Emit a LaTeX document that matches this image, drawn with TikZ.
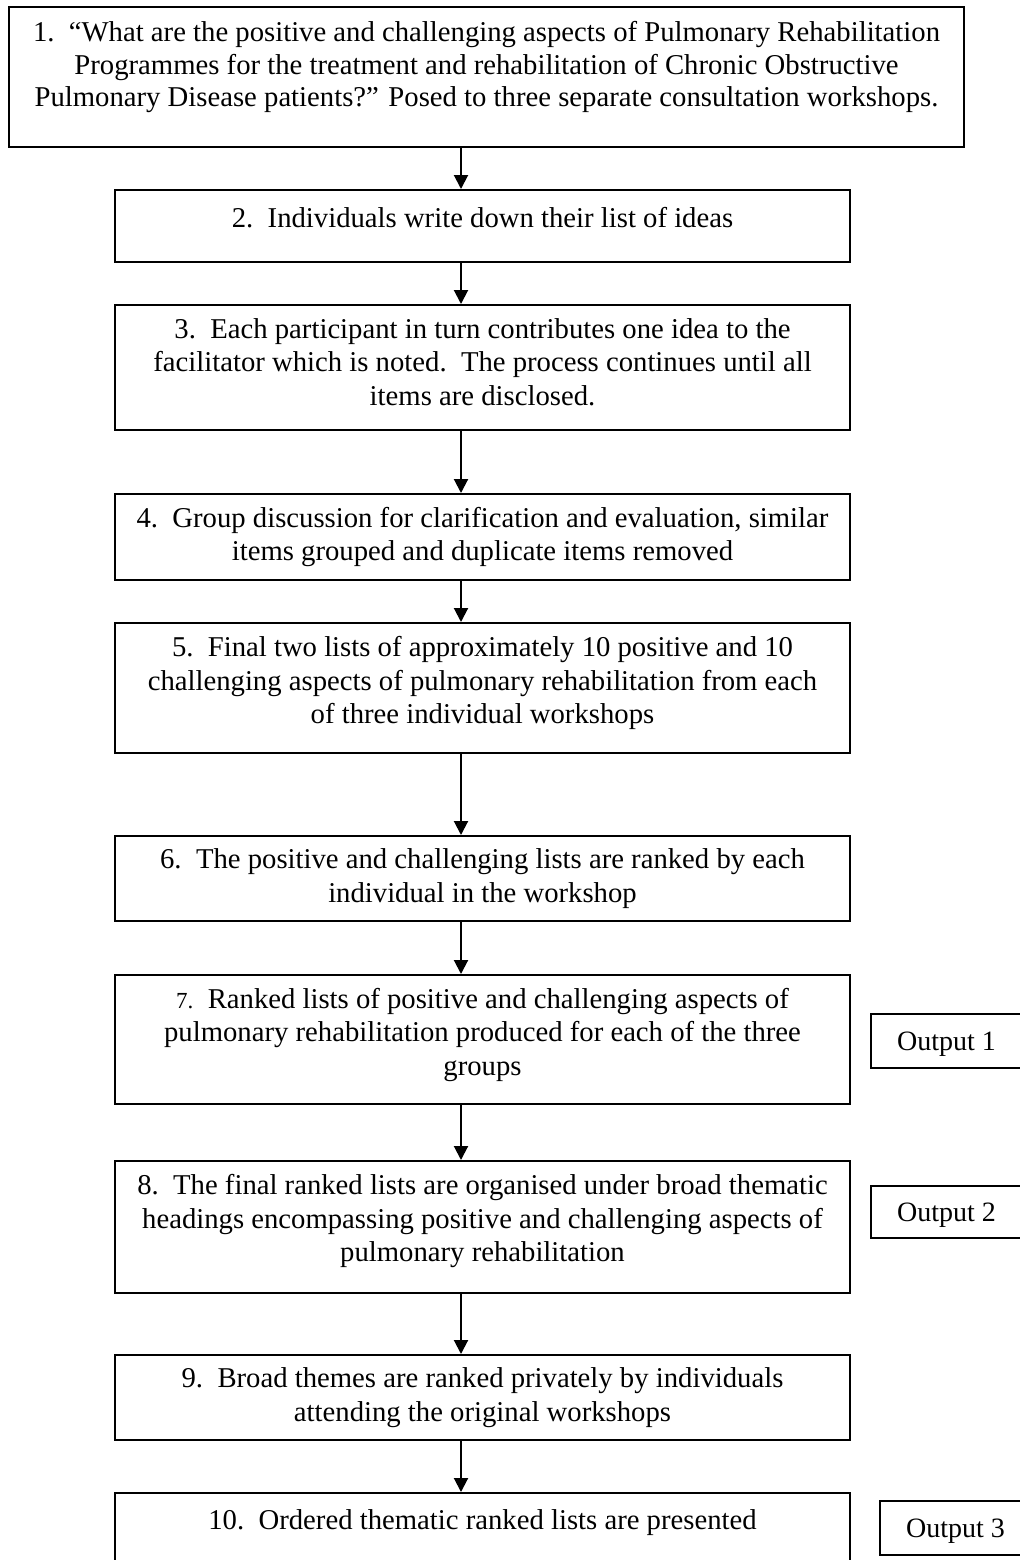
\documentclass[tikz,border=0pt]{standalone}
\usepackage{fontspec}
\setmainfont{Liberation Serif}
\usetikzlibrary{arrows.meta,positioning}
\newcommand{\drop}[1]{\rule[-#1]{0pt}{#1}}

\begin{document}
\begin{tikzpicture}[x=0.5pt, y=-0.5pt,
  box/.style={draw, line width=1pt, align=center, inner xsep=2pt, inner ysep=0pt},
  stepbox/.style={box, minimum width=367.5pt, font=\fontsize{14.35}{16.75}\selectfont, execute at begin node={\rule{0pt}{18pt}}},
  outbox/.style={box, minimum width=75.5pt, font=\fontsize{14}{16.5}\selectfont, execute at begin node={\rule{0pt}{12.5pt}}},
  arr/.style={-{Triangle[length=7pt, width=7pt]}, line width=1pt}]
\clip (0,0) rectangle (1020,1560);
\coordinate (spine) at (461,0);
\node[stepbox, minimum width=477.5pt, minimum height=70pt, font=\fontsize{14.35}{16.25}\selectfont] (s1) at (486.5,77) {1.~~“What are the positive and challenging aspects of Pulmonary Rehabilitation\\Programmes for the treatment and rehabilitation of Chronic Obstructive\\Pulmonary Disease patients?” Posed to three separate consultation workshops.\drop{13pt}};
\node[stepbox, minimum height=36pt] (s2) at (482.5,226) {2.~~Individuals write down their list of ideas\drop{16.5pt}};
\node[stepbox, minimum height=62.5pt] (s3) at (482.5,367.5) {3.~~Each participant in turn contributes one idea to the\\facilitator which is noted.~~The process continues until all\\items are disclosed.\drop{5.5pt}};
\node[stepbox, minimum height=43pt] (s4) at (482.5,537) {4.~~Group discussion for clarification and evaluation, similar\\items grouped and duplicate items removed\drop{3pt}};
\node[stepbox, minimum height=65pt] (s5) at (482.5,688) {5.~~Final two lists of approximately 10 positive and 10\\challenging aspects of pulmonary rehabilitation from each\\of three individual workshops\drop{8pt}};
\node[stepbox, minimum height=42.5pt] (s6) at (482.5,878.5) {6.~~The positive and challenging lists are ranked by each\\individual in the workshop\drop{3pt}};
\node[stepbox, minimum height=64.5pt] (s7) at (482.5,1039.5) {{\fontsize{11.5}{16.5}\selectfont 7.}~~Ranked lists of positive and challenging aspects of\\pulmonary rehabilitation produced for each of the three\\groups\drop{8pt}};
\node[stepbox, minimum height=66pt] (s8) at (482.5,1227) {8.~~The final ranked lists are organised under broad thematic\\headings encompassing positive and challenging aspects of\\pulmonary rehabilitation\drop{9pt}};
\node[stepbox, minimum height=42.5pt] (s9) at (482.5,1397.5) {9.~~Broad themes are ranked privately by individuals\\attending the original workshops\drop{3pt}};
\node[stepbox, minimum height=36pt] (s10) at (482.5,1529) {10.~~Ordered thematic ranked lists are presented\drop{17.5pt}};
\node[outbox, minimum height=27pt] (out1) at (946.5,1041) {Output 1};
\node[outbox, minimum height=26pt] (out2) at (946.5,1212) {Output 2};
\node[outbox, minimum height=27pt] (out3) at (955.5,1528) {Output 3};
\draw[arr] (s1.south -| spine) -- (s2.north -| spine); \draw[arr] (s2.south -| spine) -- (s3.north -| spine);
\draw[arr] (s3.south -| spine) -- (s4.north -| spine); \draw[arr] (s4.south -| spine) -- (s5.north -| spine);
\draw[arr] (s5.south -| spine) -- (s6.north -| spine); \draw[arr] (s6.south -| spine) -- (s7.north -| spine);
\draw[arr] (s7.south -| spine) -- (s8.north -| spine); \draw[arr] (s8.south -| spine) -- (s9.north -| spine);
\draw[arr] (s9.south -| spine) -- (s10.north -| spine);
\end{tikzpicture}
\end{document}
